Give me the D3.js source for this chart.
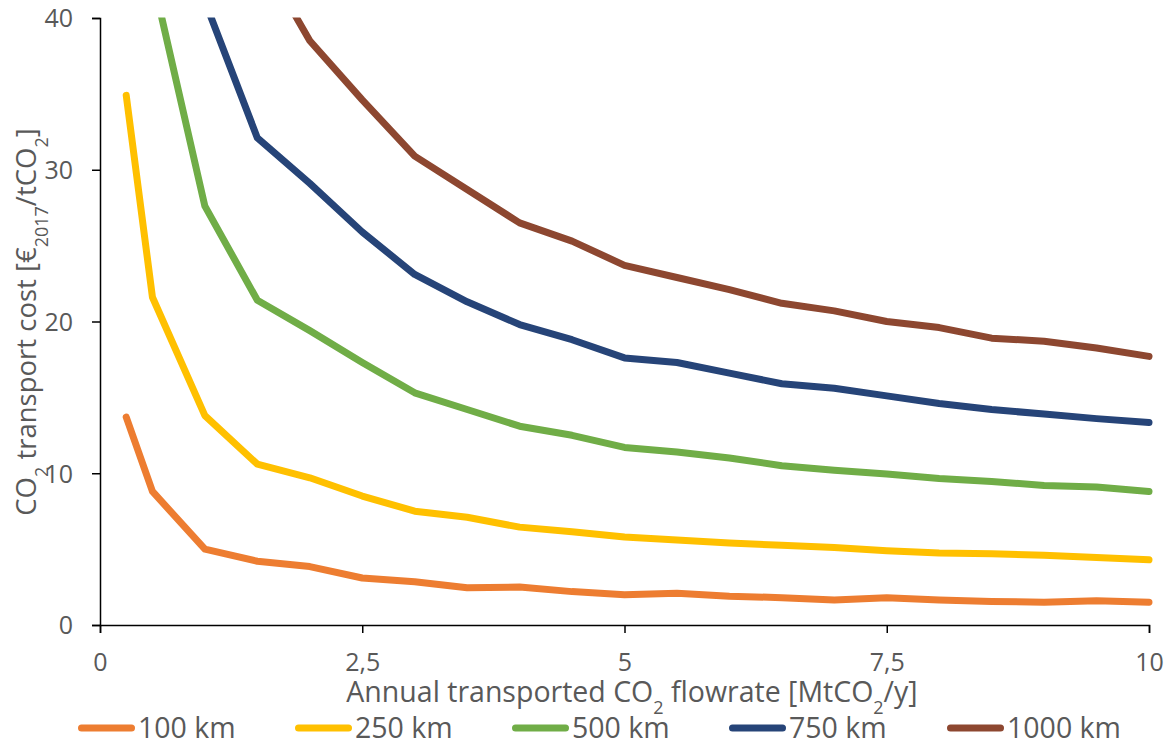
<!DOCTYPE html>
<html>
<head>
<meta charset="utf-8">
<script src="https://cdn.jsdelivr.net/npm/d3@7"></script>
<style>
  body { margin: 0; background: #fff; }
  svg { display: block; }
  text { font-family: "Open Sans", "Noto Sans", sans-serif; fill: #595959; }
</style>
</head>
<body>
<svg id="chart" width="1171" height="746"></svg>
<script>
const flowrates = [0.25, 0.5, 1, 1.5, 2, 2.5, 3, 3.5, 4, 4.5, 5, 5.5, 6, 6.5, 7, 7.5, 8, 8.5, 9, 9.5, 10];
const seriesNames = ["100 km", "250 km", "500 km", "750 km", "1000 km"];
const cost100 = [13.7, 8.8, 5.0, 4.2, 3.85, 3.1, 2.85, 2.45, 2.5, 2.2, 2.0, 2.1, 1.9, 1.8, 1.65, 1.8, 1.65, 1.55, 1.5, 1.6, 1.5];
const cost250 = [34.9, 21.6, 13.8, 10.6, 9.7, 8.5, 7.5, 7.1, 6.45, 6.15, 5.8, 5.6, 5.4, 5.25, 5.1, 4.9, 4.75, 4.7, 4.6, 4.45, 4.3];
const cost500 = [85, 42.7, 27.6, 21.4, 19.4, 17.3, 15.3, 14.2, 13.1, 12.5, 11.7, 11.4, 11.0, 10.5, 10.2, 9.95, 9.65, 9.45, 9.2, 9.1, 8.8];
const cost750 = [130, 65, 41.1, 32.1, 29.1, 25.9, 23.1, 21.3, 19.8, 18.8, 17.6, 17.3, 16.6, 15.9, 15.6, 15.1, 14.6, 14.2, 13.9, 13.6, 13.35];
const cost1000 = [170, 85, 52, 44.5, 38.5, 34.6, 30.9, 28.7, 26.5, 25.3, 23.7, 22.9, 22.1, 21.2, 20.7, 20.0, 19.6, 18.9, 18.7, 18.25, 17.7];
const colors = ["#ED7D31", "#FFC000", "#70AD47", "#264478", "#8D4730"];
const xTicks = [0, 2.5, 5, 7.5, 10];
const yTicks = [0, 10, 20, 30, 40];

const allSeries = [cost100, cost250, cost500, cost750, cost1000];

const svg = d3.select("#chart");
const m = { left: 100, right: 1149, top: 18, bottom: 625 };

const x = d3.scaleLinear().domain([0, 10]).range([m.left, m.right]);
const y = d3.scaleLinear().domain([0, 40]).range([m.bottom, m.top]);

svg.append("defs").append("clipPath").attr("id", "clip")
  .append("rect").attr("x", m.left).attr("y", m.top - 0.5)
  .attr("width", m.right - m.left + 10).attr("height", m.bottom - m.top + 0.5);

// axes
const fmt = d => String(d).replace(".", ",");
const xAxis = svg.append("g").attr("transform", `translate(0,${m.bottom})`)
  .call(d3.axisBottom(x).tickValues(xTicks).tickFormat(fmt).tickSize(8).tickPadding(20));
const yAxis = svg.append("g").attr("transform", `translate(${m.left},0)`)
  .call(d3.axisLeft(y).tickValues(yTicks).tickSize(8).tickPadding(19));
[xAxis, yAxis].forEach(g => {
  g.select(".domain").attr("stroke", "#000").attr("stroke-width", 1.5);
  g.selectAll(".tick line").attr("stroke", "#000").attr("stroke-width", 1.5);
  g.selectAll(".tick text").style("font-family", "'Open Sans', sans-serif").style("font-size", "25px").attr("fill", "#595959");
});
yAxis.selectAll(".tick text").attr("dy", "0.35em");

// lines
const line = d3.line().x((d, i) => x(flowrates[i])).y(d => y(d));
const lines = svg.append("g").attr("clip-path", "url(#clip)");
allSeries.forEach((s, k) => {
  lines.append("path").datum(s)
    .attr("d", line)
    .attr("fill", "none")
    .attr("stroke", colors[k])
    .attr("stroke-width", 7)
    .attr("stroke-linejoin", "round")
    .attr("stroke-linecap", "round");
});

// x title
const xt = svg.append("text").attr("x", 632).attr("y", 702).attr("text-anchor", "middle").style("font-size", "28.5px");
xt.append("tspan").text("Annual transported CO");
xt.append("tspan").text("2").attr("baseline-shift", "sub").style("font-size", "18px");
xt.append("tspan").text(" flowrate [MtCO");
xt.append("tspan").text("2").attr("baseline-shift", "sub").style("font-size", "18px");
xt.append("tspan").text("/y]");

// y title
const yt = svg.append("text").attr("transform", "translate(36,322) rotate(-90)").attr("text-anchor", "middle").style("font-size", "27.5px");
yt.append("tspan").text("CO");
yt.append("tspan").text("2").attr("baseline-shift", "sub").style("font-size", "18px");
yt.append("tspan").text(" transport cost [€");
yt.append("tspan").text("2017").attr("baseline-shift", "sub").style("font-size", "18px");
yt.append("tspan").text("/tCO");
yt.append("tspan").text("2").attr("baseline-shift", "sub").style("font-size", "18px");
yt.append("tspan").text("]");

// legend
const legendX = [78, 295, 512, 729, 947];
const leg = svg.append("g");
seriesNames.forEach((n, k) => {
  const g = leg.append("g").attr("transform", `translate(${legendX[k]},728)`);
  g.append("line").attr("x1", 3.5).attr("x2", 53.5).attr("y1", 0).attr("y2", 0)
    .attr("stroke", colors[k]).attr("stroke-width", 7).attr("stroke-linecap", "round");
  g.append("text").attr("x", 60).attr("y", 10).style("font-size", "28.5px").text(n);
});
</script>
</body>
</html>
